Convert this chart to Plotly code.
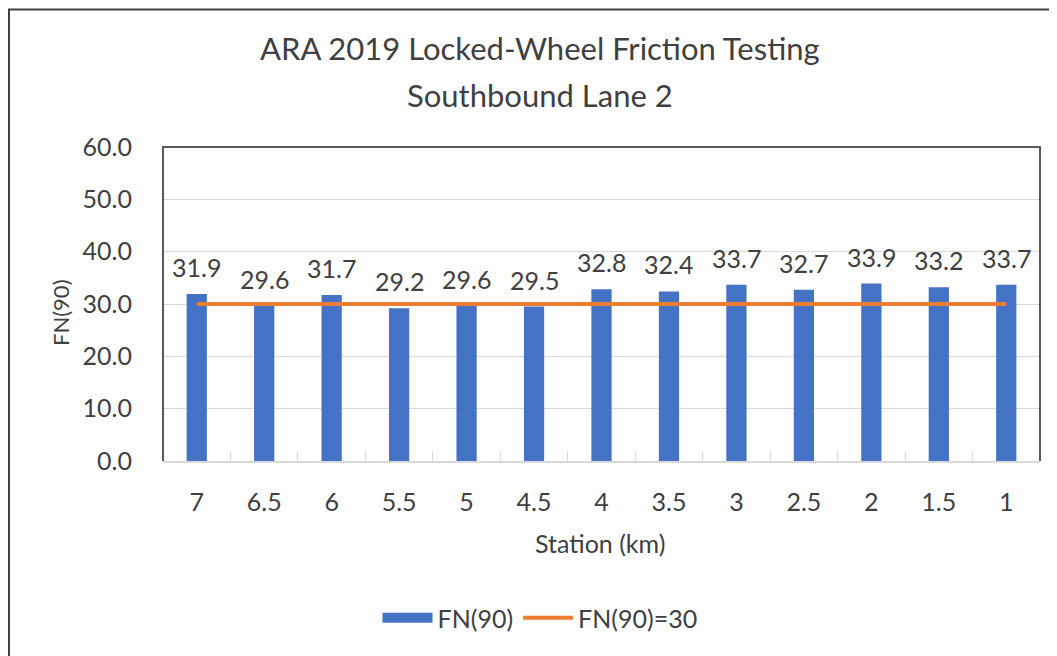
import plotly.graph_objects as go

stations = ["7", "6.5", "6", "5.5", "5", "4.5", "4", "3.5", "3", "2.5", "2", "1.5", "1"]
fn90 = [31.9, 29.6, 31.7, 29.2, 29.6, 29.5, 32.8, 32.4, 33.7, 32.7, 33.9, 33.2, 33.7]
threshold = [30] * len(stations)

OFF = 8  # page body margin
W, H = 1057, 656
L, R, T, B = 163 - OFF, 1040 - OFF, 147 - OFF, 461 - OFF
FONT = "Lato"
TXT = "#404040"

fig = go.Figure()
fig.add_trace(go.Bar(
    x=stations, y=fn90, name="FN(90)", showlegend=False, legendgroup="fn",
    marker=dict(color="#4472C4", line=dict(width=0)),
    width=0.3,
))
fig.add_trace(go.Scatter(
    x=[None], y=[None], name="FN(90)", legendgroup="fn", mode="lines",
    line=dict(color="#4472C4", width=14),
))
fig.add_trace(go.Scatter(
    x=stations, y=threshold, name="FN(90)=30", mode="lines",
    line=dict(color="#ED7D31", width=4),
))

# category axis: annotation x given as category index
for i, v in enumerate(fn90):
    fig.add_annotation(x=i, y=v, text=f"{v:.1f}", showarrow=False,
                       xanchor="center", yanchor="middle", yshift=27,
                       font=dict(size=25, color=TXT, family=FONT))

pw, ph = R - L, B - T
def px(x):
    return (x - OFF - L) / pw
def py(y):
    return (B - (y - OFF)) / ph

fig.add_shape(type="path", xref="paper", yref="paper",
              path=f"M {px(9)} {py(1000)} L {px(9)} {py(9.5)} L {px(1100)} {py(9.5)}",
              line=dict(color="#404040", width=2))
fig.add_shape(type="path", xref="paper", yref="paper",
              path="M 0 0 L 0 1 L 1 1 L 1 0",
              line=dict(color="#595959", width=2))

fig.add_annotation(text="ARA 2019 Locked-Wheel Friction Testing", xref="paper", yref="paper",
                   x=px(540), y=py(48), xanchor="center", yanchor="middle", showarrow=False,
                   font=dict(size=31, color=TXT, family=FONT))
fig.add_annotation(text="Southbound Lane 2", xref="paper", yref="paper",
                   x=px(540), y=py(95), xanchor="center", yanchor="middle", showarrow=False,
                   font=dict(size=31, color=TXT, family=FONT))
fig.add_annotation(text="Station (km)", xref="paper", yref="paper",
                   x=px(600), y=py(543), xanchor="center", yanchor="middle", showarrow=False,
                   font=dict(size=25, color=TXT, family=FONT))
fig.add_annotation(text="FN(90)", xref="paper", yref="paper", textangle=-90,
                   x=px(60), y=py(313), xanchor="center", yanchor="middle", showarrow=False,
                   font=dict(size=22, color=TXT, family=FONT))

fig.update_layout(
    width=W, height=H,
    margin=dict(l=L, r=W - R, t=T, b=H - B, autoexpand=False),
    paper_bgcolor="white", plot_bgcolor="white",
    font=dict(family=FONT, color=TXT, size=25),
    xaxis=dict(type="category", showline=True, linecolor="#d9d9d9", linewidth=1.5,
               ticks="inside", ticklen=10, tickcolor="#d9d9d9", tickson="boundaries",
               tickfont=dict(size=25, color=TXT), ticklabelstandoff=18,
               showgrid=False),
    yaxis=dict(range=[0, 60], dtick=10, tickformat=".1f",
               showgrid=True, gridcolor="#d9d9d9", gridwidth=1,
               tickfont=dict(size=25, color=TXT), ticklabelstandoff=30,
               zeroline=False),
    legend=dict(orientation="h", x=px(540), xanchor="center",
                y=py(618), yanchor="middle",
                font=dict(size=25, color=TXT), itemwidth=50, tracegroupgap=0),
    showlegend=True,
    bargap=0.7,
)

fig.write_html("out.html")
